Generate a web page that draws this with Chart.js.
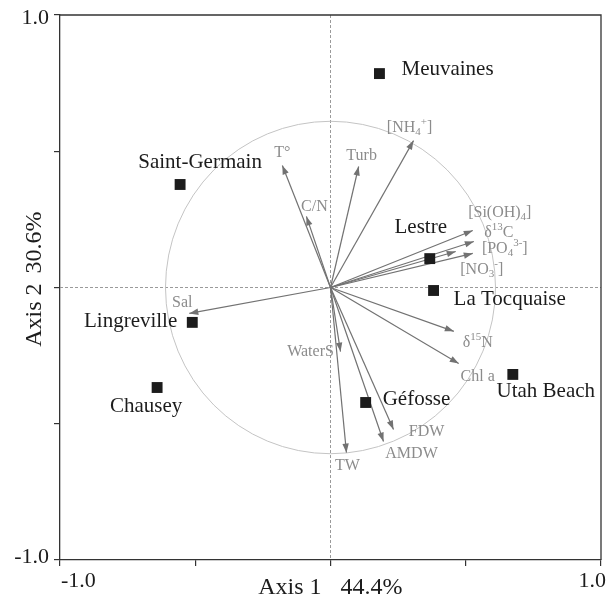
<!DOCTYPE html>
<html>
<head>
<meta charset="utf-8">
<script src="https://cdn.jsdelivr.net/npm/chart.js@4.4.0/dist/chart.umd.min.js"></script>
<style>
  html, body { margin: 0; padding: 0; background: #fff; }
  #wrap { width: 612px; height: 597px; }
</style>
</head>
<body>
<div id="wrap"><canvas id="pca"></canvas></div>
<script>
// sites (scores)
const siteNames = ["Meuvaines", "Saint-Germain", "Lestre", "La Tocquaise", "Lingreville", "Chausey", "Géfosse", "Utah Beach"];
const siteX = [0.181, -0.556, 0.367, 0.381, -0.511, -0.641, 0.130, 0.674];
const siteY = [0.785, 0.378, 0.106, -0.011, -0.128, -0.367, -0.422, -0.319];

// variables (loadings); _{} = subscript, ^{} = superscript
const varNames = ["[NH_{4}^{+}]", "Turb", "T°", "C/N", "[Si(OH)_{4}]", "δ^{13}C", "[PO_{4}^{3-}]", "[NO_{3}^{-}]",
  "Sal", "WaterS", "δ^{15}N", "Chl a", "TW", "AMDW", "FDW"];
const varX = [0.307, 0.104, -0.178, -0.089, 0.526, 0.530, 0.526, 0.463, -0.522, 0.037, 0.456, 0.474, 0.059, 0.196, 0.233];
const varY = [0.539, 0.444, 0.448, 0.261, 0.209, 0.169, 0.125, 0.132, -0.095, -0.235, -0.161, -0.279, -0.606, -0.565, -0.521];

const circleRadius = 0.61;
const axisTicks = [-1, -0.5, 0, 0.5, 1];
const tickLabels = ["-1.0", "1.0"];
const xTitle = ["Axis 1", "44.4%"];
const yTitle = ["Axis 2", "30.6%"];

// label placement (pixel offsets from the mark)
const siteLabelPos = [[22, -4, "left"], [20, -22, "center"], [-9, -31, "center"], [20, 9, "left"],
  [-15, -1, "right"], [-11, 19, "center"], [17, -3, "left"], [33, 17, "center"]];
const varLabelPos = [[-4, -13], [3, -11], [0, -13], [8, -10], [27, -18], [25, -9], [32, -5], [26, 18],
  [-7, -11], [-30, 0], [24, 11], [19, 13], [1, 13], [28, 12], [33, 2]];

const SERIF = '"Liberation Serif", "DejaVu Serif", serif';
const ARROW = "#727272";

function parseRich(s) {
  const segs = [];
  const re = /([_^])\{([^}]*)\}|([^_^]+)/g;
  let m;
  while ((m = re.exec(s))) {
    if (m[3]) segs.push({ t: m[3], k: 0 });
    else segs.push({ t: m[2], k: m[1] === "_" ? 1 : 2 });
  }
  return segs;
}

function drawRich(ctx, s, x, y, size, align) {
  const segs = parseRich(s);
  const small = Math.round(size * 0.68);
  let w = 0;
  segs.forEach((g) => {
    ctx.font = (g.k ? small : size) + "px " + SERIF;
    g.w = ctx.measureText(g.t).width;
    w += g.w;
  });
  let cx = align === "left" ? x : align === "right" ? x - w : x - w / 2;
  ctx.textAlign = "left";
  ctx.textBaseline = "middle";
  segs.forEach((g) => {
    ctx.font = (g.k ? small : size) + "px " + SERIF;
    const dy = g.k === 1 ? size * 0.3 : g.k === 2 ? -size * 0.33 : 0;
    ctx.fillText(g.t, cx, y + dy);
    cx += g.w;
  });
}

const backdrop = {
  id: "backdrop",
  beforeDatasetsDraw(chart) {
    const { ctx, chartArea: a, scales: { x, y } } = chart;
    const x0 = x.getPixelForValue(0), y0 = y.getPixelForValue(0);
    ctx.save();
    // zero lines
    ctx.strokeStyle = "#9a9a9a";
    ctx.lineWidth = 1;
    ctx.setLineDash([3, 2]);
    ctx.beginPath();
    ctx.moveTo(x0, a.top); ctx.lineTo(x0, a.bottom);
    ctx.moveTo(a.left, y0); ctx.lineTo(a.right, y0);
    ctx.stroke();
    ctx.setLineDash([]);
    // correlation circle
    const rx = x.getPixelForValue(circleRadius) - x0;
    const ry = y0 - y.getPixelForValue(circleRadius);
    ctx.strokeStyle = "#c4c4c4";
    ctx.beginPath();
    ctx.ellipse(x0, y0, rx, ry, 0, 0, Math.PI * 2);
    ctx.stroke();
    ctx.restore();
  },
  afterDatasetsDraw(chart) {
    const { ctx, chartArea: a, scales: { x, y } } = chart;
    const x0 = x.getPixelForValue(0), y0 = y.getPixelForValue(0);
    ctx.save();
    // arrow heads
    ctx.fillStyle = ARROW;
    varX.forEach((vx, i) => {
      const px = x.getPixelForValue(vx), py = y.getPixelForValue(varY[i]);
      const ang = Math.atan2(py - y0, px - x0);
      const L = 9, W = 3.2;
      ctx.beginPath();
      ctx.moveTo(px, py);
      ctx.lineTo(px - L * Math.cos(ang) + W * Math.sin(ang), py - L * Math.sin(ang) - W * Math.cos(ang));
      ctx.lineTo(px - L * Math.cos(ang) - W * Math.sin(ang), py - L * Math.sin(ang) + W * Math.cos(ang));
      ctx.closePath();
      ctx.fill();
    });
    // variable labels
    ctx.fillStyle = "#8c8c8c";
    varNames.forEach((n, i) => {
      const px = x.getPixelForValue(varX[i]), py = y.getPixelForValue(varY[i]);
      const p = varLabelPos[i];
      drawRich(ctx, n, px + p[0], py + p[1], 16, "center");
    });
    // site labels
    ctx.fillStyle = "#1c1c1c";
    siteNames.forEach((n, i) => {
      const px = x.getPixelForValue(siteX[i]), py = y.getPixelForValue(siteY[i]);
      const p = siteLabelPos[i];
      drawRich(ctx, n, px + p[0], py + p[1], 21, p[2]);
    });
    // frame top/right
    ctx.strokeStyle = "#333";
    ctx.lineWidth = 1.3;
    ctx.beginPath();
    ctx.moveTo(a.left, a.top); ctx.lineTo(a.right, a.top); ctx.lineTo(a.right, a.bottom);
    ctx.stroke();
    // tick labels and titles
    ctx.fillStyle = "#1c1c1c";
    ctx.font = "22px " + SERIF;
    ctx.textBaseline = "middle";
    ctx.textAlign = "right";
    ctx.fillText(tickLabels[1], a.left - 11, y.getPixelForValue(1) + 3);
    ctx.fillText(tickLabels[0], a.left - 11, y.getPixelForValue(-1) - 3);
    ctx.textAlign = "left";
    ctx.fillText(tickLabels[0], a.left + 1, a.bottom + 21);
    ctx.textAlign = "right";
    ctx.fillText(tickLabels[1], a.right + 5, a.bottom + 21);
    ctx.font = "24px " + SERIF;
    ctx.textAlign = "right";
    ctx.fillText(xTitle[0], x0 - 9, a.bottom + 28);
    ctx.textAlign = "left";
    ctx.fillText(xTitle[1], x0 + 10, a.bottom + 28);
    ctx.translate(35, y0 - 8);
    ctx.rotate(-Math.PI / 2);
    ctx.textAlign = "right";
    ctx.fillText(yTitle[0], -4, 0);
    ctx.textAlign = "left";
    ctx.fillText(yTitle[1], 6, 0);
    ctx.restore();
  },
};

const arrowSets = varX.map((vx, i) => ({
  type: "scatter",
  data: [{ x: 0, y: 0 }, { x: vx, y: varY[i] }],
  showLine: true,
  borderColor: ARROW,
  borderWidth: 1.2,
  pointRadius: 0,
  order: 2,
}));

const siteSet = {
  type: "scatter",
  data: siteX.map((sx, i) => ({ x: sx, y: siteY[i] })),
  pointStyle: "rect",
  pointRadius: 7.7,
  backgroundColor: "#1c1c1c",
  borderWidth: 0,
  order: 1,
};

const axisCommon = {
  type: "linear",
  min: -1,
  max: 1,
  afterBuildTicks: (s) => { s.ticks = axisTicks.map((v) => ({ value: v })); },
  ticks: { display: false },
  grid: { drawOnChartArea: false, drawTicks: true, tickLength: 6, color: "#333", lineWidth: 1.2 },
  border: { display: true, color: "#333", width: 1.3 },
};

new Chart(document.getElementById("pca"), {
  type: "scatter",
  data: { datasets: [...arrowSets, siteSet] },
  options: {
    responsive: true,
    maintainAspectRatio: false,
    animation: false,
    layout: { padding: { top: 15, right: 11, left: 0, bottom: 0 } },
    plugins: { legend: { display: false }, tooltip: { enabled: false } },
    scales: {
      x: { ...axisCommon, afterFit: (s) => { s.height = 37; } },
      y: { ...axisCommon, afterFit: (s) => { s.width = 60; } },
    },
  },
  plugins: [backdrop],
});
</script>
</body>
</html>
